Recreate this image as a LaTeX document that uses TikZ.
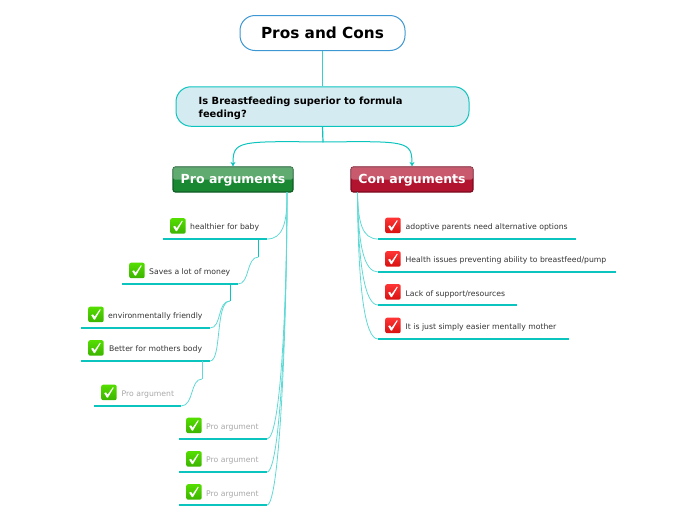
\documentclass[tikz,border=0pt]{standalone}
\usepackage{fontspec}
\setmainfont{DejaVu Sans}
\usetikzlibrary{arrows.meta,calc}
\definecolor{teal1}{HTML}{0CC4BE}
\definecolor{teal2}{HTML}{5FD9D5}
\definecolor{itemtxt}{HTML}{333333}
\definecolor{ghost}{HTML}{A8A8A8}
\definecolor{qfill}{HTML}{D5EBF2}
\definecolor{rootline}{HTML}{3D97D3}
\definecolor{progreen}{HTML}{1A8733}
\definecolor{proline}{HTML}{0F5C26}
\definecolor{conred}{HTML}{B2142F}
\definecolor{conline}{HTML}{7C0A20}
\definecolor{oktop}{HTML}{55DD00}
\definecolor{okbot}{HTML}{3CB400}
\definecolor{notop}{HTML}{FF3535}
\definecolor{nobot}{HTML}{D81010}
\tikzset{
  x=1pt,y=-1pt,
  titlebox/.style={draw=#1,line width=1pt,rounded corners=15pt,inner sep=0pt},
  catbox/.style={rounded corners=2.5pt,line width=1.2pt,inner sep=0pt,minimum height=25pt},
  cattext/.style={text=white,inner sep=0pt,font=\fontsize{12.5}{14}\selectfont\bfseries},
  itemtext/.style={anchor=base west,inner sep=0pt,text=itemtxt,font=\fontsize{7.7}{9}\selectfont},
  ghosttext/.style={itemtext,text=ghost},
  qtext/.style={anchor=base west,inner sep=0pt,font=\fontsize{9.9}{12}\selectfont\bfseries},
  rule/.style={teal1,line width=1.7pt},
  link/.style={teal2,line width=.8pt},
  stem/.style={teal1,line width=1.2pt},
  tip/.style={teal1,line width=1pt,-{Stealth[length=4.5pt,width=5pt]}},
  tickicon/.style={anchor=north west,minimum size=15.5pt,inner sep=0pt,rounded corners=2pt,draw=none},
  yes/.style={tickicon,top color=oktop,bottom color=okbot},
  no/.style={tickicon,top color=notop,bottom color=nobot},
}
\newcommand{\tickmark}[1]{%
  \fill[white] ($(#1.north west)+(3.2,8.6)$) -- ($(#1.north west)+(5,7.8)$) -- ($(#1.north west)+(6.6,10.2)$)
     -- ($(#1.north west)+(12,2.6)$) -- ($(#1.north west)+(12.7,3.2)$) -- ($(#1.north west)+(7,13)$) -- ($(#1.north west)+(5.8,13)$) -- cycle;}
% \leaf{name}{icon style}{icon x}{icon y}{text x}{baseline y}{style}{text}{rule left}
\newcommand{\leaf}[9]{%
  \node[#2] (#1i) at (#3,#4) {};
  \tickmark{#1i}
  \node[#7] (#1t) at (#5,#6) {#8};
  \coordinate (#1l) at (#9);
}
\begin{document}
\begin{tikzpicture}
\useasboundingbox (0,0) rectangle (696,520);
\node[titlebox=rootline,minimum width=165pt,minimum height=35pt,font=\fontsize{15.3}{17}\selectfont\bfseries] (root) at (322.5,33) {Pros and Cons};
\node[titlebox=teal1,fill=qfill,minimum width=293pt,minimum height=39.5pt] (q) at (322.5,106.5) {};
\node[qtext] (q1) at (198.5,104.5) {Is Breastfeeding superior to formula};
\node[qtext] (q2) at (198.5,117) {feeding?};
\draw[stem,teal2!50!teal1] (root.south) -- (q.north);

% category boxes
\node[catbox,draw=proline,minimum width=120pt,fill=progreen] (pro) at (233,179.5) {};
\node[catbox,draw=conline,minimum width=122pt,fill=conred] (con) at (412,179.5) {};
\fill[white,opacity=.3,rounded corners=2pt] ($(pro.north west)+(.6,.6)$) rectangle ($(pro.east)+(-.6,0)$);
\fill[white,opacity=.3,rounded corners=2pt] ($(con.north west)+(.6,.6)$) rectangle ($(con.east)+(-.6,0)$);
\node[cattext] (prot) at (233,180.5) {Pro arguments};
\node[cattext] (cont) at (412,180.5) {Con arguments};

% question to categories
\coordinate (fork) at (323,142);
\draw[stem] (q.south) -- (fork);
\draw[tip] (fork) .. controls (238,141) and (233,141) .. (pro.north);
\draw[tip] (fork) .. controls (407,141) and (412,141) .. (con.north);

% pro items
\leaf{a}{yes}{170}{218}{190}{229}{itemtext}{healthier for baby}{163,239}
\leaf{b}{yes}{129}{262.5}{149}{274}{itemtext}{Saves a lot of money}{122,284}
\leaf{c}{yes}{88}{306.5}{108}{318}{itemtext}{environmentally friendly}{81,328}
\leaf{d}{yes}{88}{340}{109}{351}{itemtext}{Better for mothers body}{81,361}
\leaf{e}{yes}{101}{384.5}{121.5}{396}{ghosttext}{Pro argument}{94,406}
\leaf{f}{yes}{186}{417.5}{206}{429}{ghosttext}{Pro argument}{179,439}
\leaf{g}{yes}{186}{451}{206}{462}{ghosttext}{Pro argument}{179,472}
\leaf{h}{yes}{186}{484}{206}{496}{ghosttext}{Pro argument}{179,505}
\coordinate (ar) at (267,239);
\coordinate (br) at (238,284);
\coordinate (cr) at (210,328);
\coordinate (dr) at (210,361);
\coordinate (er) at (181,406);
\coordinate (fr) at (267,439);
\coordinate (gr) at (267,472);
\coordinate (hr) at (267,505);
\foreach \n in {a,b,c,d,e,f,g,h} \draw[rule] (\n l) -- (\n r);

% con items
\leaf{p}{no}{385}{217.5}{405.5}{229}{itemtext}{adoptive parents need alternative options}{378,239}
\leaf{q}{no}{385}{251}{405.5}{262}{itemtext}{Health issues preventing ability to breastfeed/pump}{378,272}
\leaf{r}{no}{385}{284}{405.5}{296}{itemtext}{Lack of support/resources}{378,305}
\leaf{s}{no}{385}{317.5}{405.5}{329}{itemtext}{It is just simply easier mentally mother}{378,339}
\coordinate (pr) at (576,239);
\coordinate (qr) at (616,272);
\coordinate (rr) at (517,305);
\coordinate (sr) at (569,339);
\foreach \n in {p,q,r,s} \draw[rule] (\n l) -- (\n r);

% pro connectors
\coordinate (protrunk) at (287,192);
\draw[link] (protrunk) .. controls (287.5,225) and (282,239) .. (ar);
\draw[link] (protrunk) .. controls (287,280) and (282,439) .. (fr);
\draw[link] (protrunk) .. controls (287,300) and (281,472) .. (gr);
\draw[link] (protrunk) .. controls (287,320) and (280,505) .. (hr);
% sibling stems
\coordinate (ab) at (258.5,239); \coordinate (abk) at (258.5,257);
\coordinate (bc) at (230,284);   \coordinate (bck) at (230,301);
\coordinate (de) at (202,361);   \coordinate (dek) at (202,379);
\draw[link,teal1] (ab) -- (abk);
\draw[link,teal1] (bc) -- (bck);
\draw[link] (de) -- (dek);
\draw[link] (abk) .. controls (246,257) and (250,284) .. (br);
\draw[link] (bck) .. controls (217,301) and (222,328) .. (cr);
\draw[link] (bck) .. controls (215,301) and (222,361) .. (dr);
\draw[link] (dek) .. controls (190,379) and (194,406) .. (er);

% con connectors
\coordinate (contrunk) at (357.5,192);
\draw[link] (contrunk) .. controls (358,222) and (362,239) .. (pl);
\draw[link] (contrunk) .. controls (358,245) and (364,272) .. (ql);
\draw[link] (contrunk) .. controls (358,265) and (365,305) .. (rl);
\draw[link] (contrunk) .. controls (358,290) and (365,339) .. (sl);
\end{tikzpicture}
\end{document}
